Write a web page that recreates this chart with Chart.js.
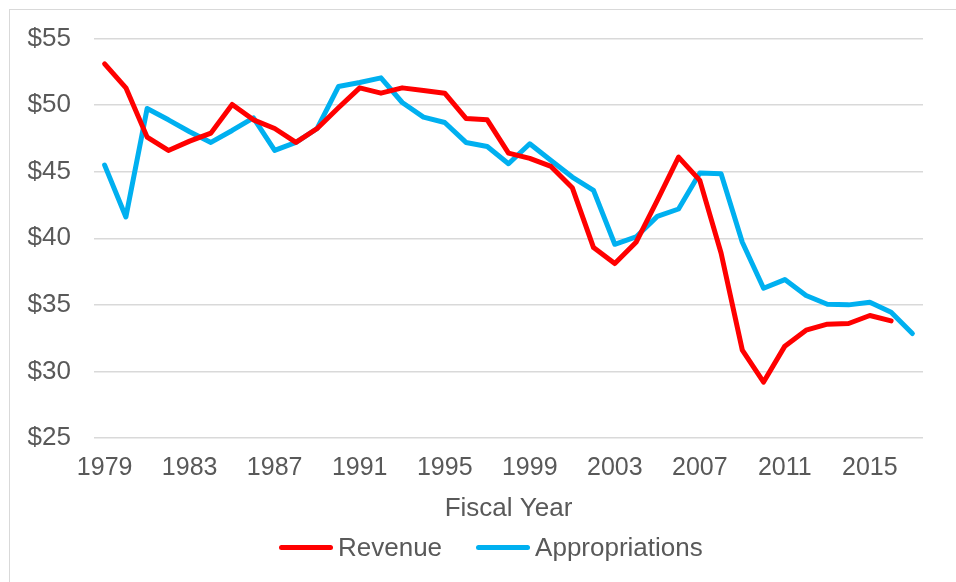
<!DOCTYPE html>
<html>
<head>
<meta charset="utf-8">
<script src="https://cdn.jsdelivr.net/npm/chart.js@4"></script>
<style>
    html, body { margin: 0; padding: 0; background: #fff; overflow: hidden; }
    #Frame {
        position: absolute; left: 9px; top: 9px; width: 960px; height: 600px;
        border: 1.5px solid #d9d9d9; box-sizing: border-box;
    }
    #Wrap { position: absolute; left: 0; top: 0; width: 956px; height: 582px; }
    #Legend {
        position: absolute; left: 279px; top: 532px; height: 30px;
        display: flex; align-items: center;
        font-family: "Liberation Sans", Arial, sans-serif; font-size: 26px; color: #595959;
    }
    #Legend .item { display: flex; align-items: center; margin-right: 34px; }
    #Legend .swatch { width: 54px; height: 5px; border-radius: 3px; margin-right: 5px; }
</style>
</head>
<body>
<div id="Frame"></div>
<div id="Wrap"><canvas id="FundingChart" width="956" height="582"></canvas></div>
<div id="Legend"></div>
<script>
var years = [];
for (var y = 1979; y <= 2017; y++) years.push(String(y));

var revenue = [
    53.1, 51.3, 47.6, 46.6, 47.3, 47.9, 50.05, 48.9, 48.25, 47.2,
    48.25, 49.8, 51.3, 50.9, 51.3, 51.1, 50.9, 49.0, 48.9, 46.4,
    46.0, 45.4, 43.8, 39.3, 38.1, 39.7, 42.85, 46.1, 44.35, 38.9,
    31.6, 29.2, 31.9, 33.1, 33.55, 33.6, 34.2, 33.8, null
];

var appropriations = [
    45.5, 41.6, 49.75, 48.9, 48.0, 47.2, 48.1, 49.05, 46.6, 47.2,
    48.25, 51.4, 51.7, 52.05, 50.2, 49.1, 48.7, 47.2, 46.9, 45.6,
    47.1, 45.85, 44.6, 43.6, 39.55, 40.1, 41.65, 42.2, 44.9, 44.85,
    39.7, 36.25, 36.9, 35.7, 35.05, 35.0, 35.2, 34.45, 32.85
];

var yTicks = [25, 30, 35, 40, 45, 50, 55];

var textColor = '#595959';
var gridColor = '#d9d9d9';
var fontFamily = '"Liberation Sans", Arial, sans-serif';

Chart.defaults.font.family = fontFamily;
Chart.defaults.font.size = 25;
Chart.defaults.color = textColor;

var ctx = document.getElementById('FundingChart');

var chart = new Chart(ctx, {
    type: 'line',
    data: {
        labels: years,
        datasets: [{
            label: 'Revenue',
            data: revenue,
            borderColor: '#ff0000',
            backgroundColor: '#ff0000',
            borderWidth: 5,
            pointRadius: 0,
            tension: 0,
            borderJoinStyle: 'round',
            borderCapStyle: 'round'
        }, {
            label: 'Appropriations',
            data: appropriations,
            borderColor: '#00b0f0',
            backgroundColor: '#00b0f0',
            borderWidth: 5,
            pointRadius: 0,
            tension: 0,
            borderJoinStyle: 'round',
            borderCapStyle: 'round'
        }]
    },
    options: {
        responsive: false,
        animation: false,
        layout: {
            padding: { left: 0, right: 33, top: 38, bottom: 58 }
        },
        plugins: {
            legend: { display: false },
            tooltip: { enabled: false }
        },
        scales: {
            x: {
                offset: true,
                grid: { display: false, drawTicks: false },
                border: { display: false },
                afterFit: function (scale) {
                    scale.height = 86;
                },
                ticks: {
                    autoSkip: false,
                    maxRotation: 0,
                    padding: 15,
                    font: { size: 25 },
                    callback: function (val, i) {
                        return i % 4 === 0 ? years[i] : '';
                    }
                },
                title: {
                    display: true,
                    text: 'Fiscal Year',
                    color: textColor,
                    font: { size: 26 },
                    padding: { top: 0, bottom: 0 }
                }
            },
            y: {
                min: 25,
                max: 55,
                afterBuildTicks: function (scale) {
                    scale.ticks = yTicks.map(function (v) { return { value: v }; });
                },
                afterFit: function (scale) {
                    scale.width = 94;
                },
                grid: {
                    color: gridColor,
                    lineWidth: 1.5,
                    drawTicks: false
                },
                border: { display: false },
                ticks: {
                    padding: 23,
                    font: { size: 26 },
                    callback: function (v) { return '$' + v; }
                }
            }
        }
    }
});

// legend in html so the gap between swatch and text can match
var legend = document.getElementById('Legend');
chart.data.datasets.forEach(function (ds) {
    var item = document.createElement('div');
    item.className = 'item';
    var sw = document.createElement('div');
    sw.className = 'swatch';
    sw.style.background = ds.borderColor;
    var txt = document.createElement('span');
    txt.textContent = ds.label;
    item.appendChild(sw);
    item.appendChild(txt);
    legend.appendChild(item);
});
</script>
</body>
</html>
